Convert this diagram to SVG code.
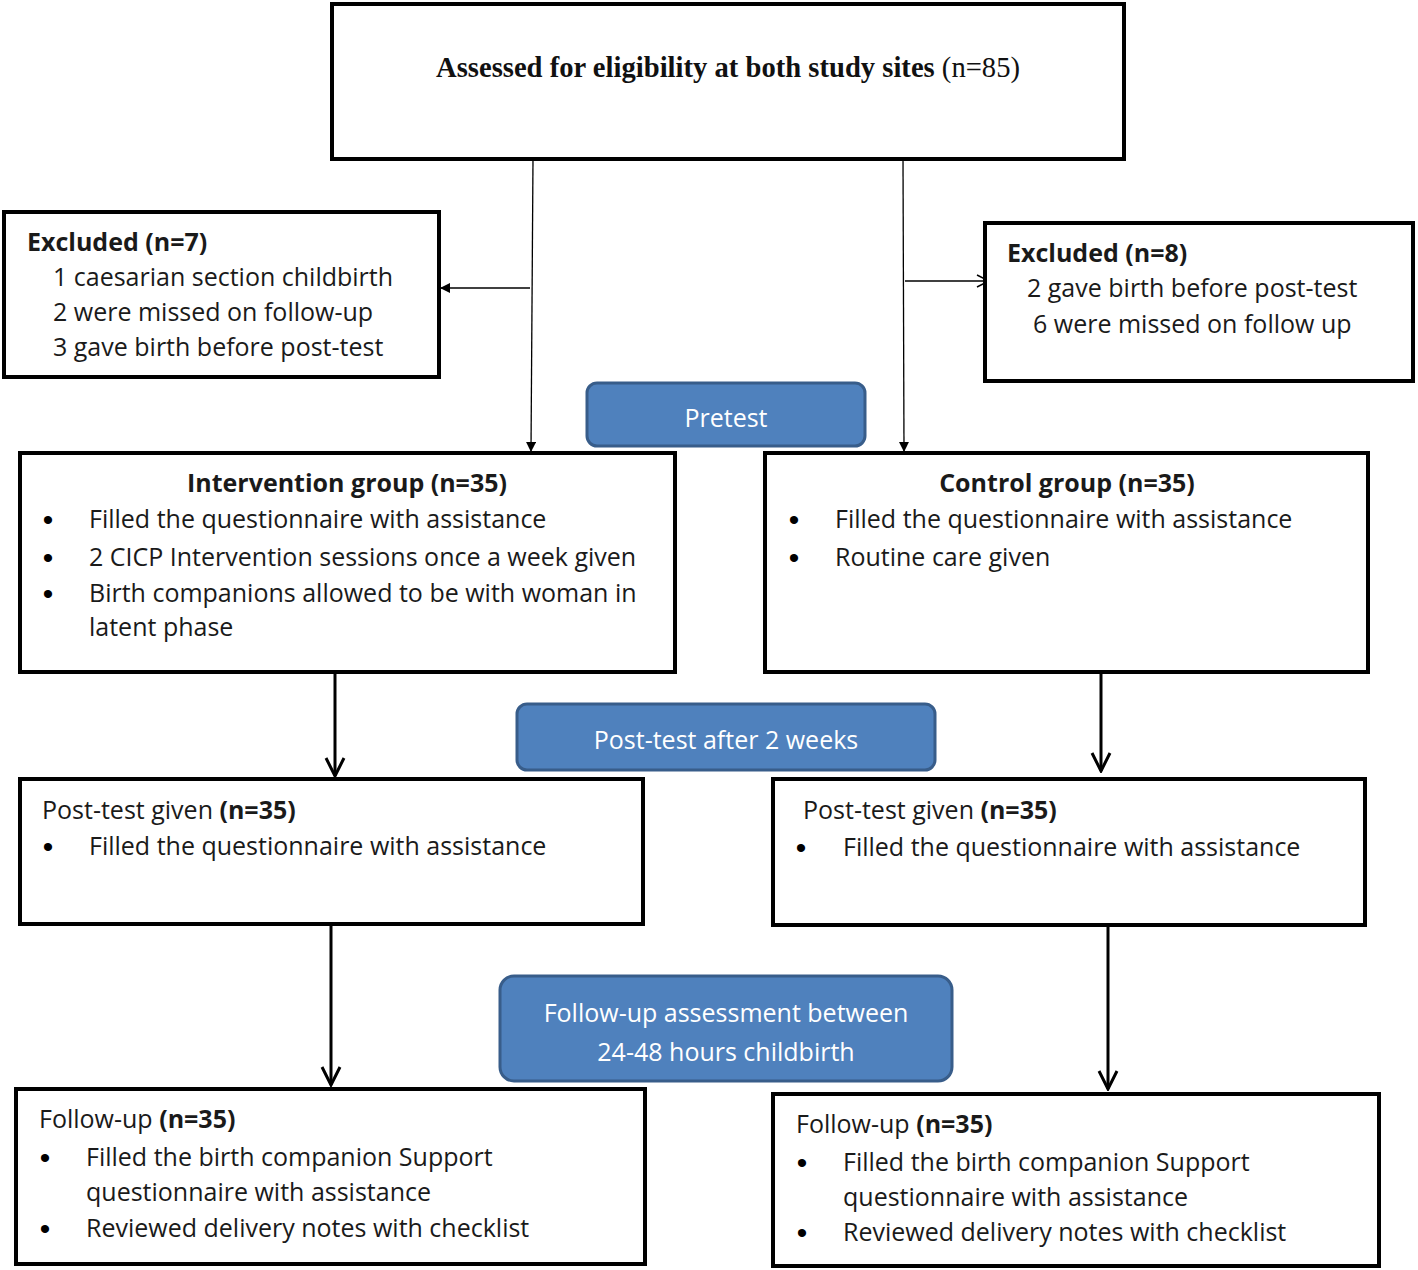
<svg xmlns="http://www.w3.org/2000/svg" width="1418" height="1270" viewBox="0 0 1418 1270">
<defs>
<style>
.box{fill:#fff;stroke:#000;stroke-width:4}
.pill{fill:#4F81BD;stroke:#385D8A;stroke-width:3}
.t{font-family:"Open Sans","Liberation Sans",sans-serif;font-size:25px;fill:#1a1a1a}
.b{font-weight:bold}
.d{font-family:"Liberation Sans",sans-serif;font-size:30px;fill:#000;text-anchor:middle}
.w{font-family:"Open Sans","Liberation Sans",sans-serif;font-size:25px;fill:#fff}
.thin{stroke:#000;stroke-width:1.3;fill:none}
.thick{stroke:#000;stroke-width:3;fill:none}
</style>
<marker id="ah" markerWidth="10" markerHeight="10" refX="9" refY="5" orient="auto" markerUnits="userSpaceOnUse"><path d="M0,0 L10,5 L0,10 Z" fill="#000"/></marker>
<marker id="ao" markerWidth="14" markerHeight="14" refX="13" refY="7" orient="auto" markerUnits="userSpaceOnUse"><path d="M1,1 L13,7 L1,13" fill="none" stroke="#000" stroke-width="1.5"/></marker>
<marker id="ak" markerWidth="22" markerHeight="22" refX="20" refY="11" orient="auto" markerUnits="userSpaceOnUse"><path d="M2,2 L20,11 L2,20" fill="none" stroke="#000" stroke-width="3"/></marker>
</defs>
<rect width="1418" height="1270" fill="#fff"/>
<g id="connectors">
<path class="thin" d="M533,159 L531,451" marker-end="url(#ah)"/>
<path class="thin" d="M530,288 L441,288" marker-end="url(#ah)"/>
<path class="thin" d="M903,159 L904,451" marker-end="url(#ah)"/>
<path class="thin" d="M905,281 L989,281" marker-end="url(#ao)"/>
<path class="thick" d="M335,672 L335,776" marker-end="url(#ak)"/>
<path class="thick" d="M1101,672 L1101,771" marker-end="url(#ak)"/>
<path class="thick" d="M331,924 L331,1085" marker-end="url(#ak)"/>
<path class="thick" d="M1108,925 L1108,1089" marker-end="url(#ak)"/>
</g>
<g id="assessed">
<rect class="box" x="332" y="4" width="792" height="155"/>
<text x="436" y="77" textLength="584" lengthAdjust="spacingAndGlyphs" style="font-family:'Liberation Serif',serif;font-size:29px;fill:#111"><tspan font-weight="bold">Assessed for eligibility at both study sites</tspan> (n=85)</text>
</g>
<g id="excluded-left">
<rect class="box" x="4" y="212" width="435" height="165"/>
<text class="t b" x="27" y="251">Excluded (n=7)</text>
<text class="t" x="53" y="286">1 caesarian section childbirth</text>
<text class="t" x="53" y="321">2 were missed on follow-up</text>
<text class="t" x="53" y="356">3 gave birth before post-test</text>
</g>
<g id="excluded-right">
<rect class="box" x="985" y="223" width="428" height="158"/>
<text class="t b" x="1007" y="262">Excluded (n=8)</text>
<text class="t" x="1027" y="297">2 gave birth before post-test</text>
<text class="t" x="1033" y="333">6 were missed on follow up</text>
</g>
<g id="pretest">
<rect class="pill" x="587" y="383" width="278" height="63" rx="10"/>
<text class="w" x="726" y="427" text-anchor="middle">Pretest</text>
</g>
<g id="intervention">
<rect class="box" x="20" y="453" width="655" height="219"/>
<text class="t b" x="347" y="492" text-anchor="middle">Intervention group (n=35)</text>
<text class="d" x="48" y="530">•</text><text class="t" x="89" y="528">Filled the questionnaire with assistance</text>
<text class="d" x="48" y="568">•</text><text class="t" x="89" y="566">2 CICP Intervention sessions once a week given</text>
<text class="d" x="48" y="604">•</text><text class="t" x="89" y="602">Birth companions allowed to be with woman in</text>
<text class="t" x="89" y="636">latent phase</text>
</g>
<g id="control">
<rect class="box" x="765" y="453" width="603" height="219"/>
<text class="t b" x="1067" y="492" text-anchor="middle">Control group (n=35)</text>
<text class="d" x="794" y="530">•</text><text class="t" x="835" y="528">Filled the questionnaire with assistance</text>
<text class="d" x="794" y="568">•</text><text class="t" x="835" y="566">Routine care given</text>
</g>
<g id="posttest-label">
<rect class="pill" x="517" y="704" width="418" height="66" rx="10"/>
<text class="w" x="726" y="749" text-anchor="middle">Post-test after 2 weeks</text>
</g>
<g id="posttest-left">
<rect class="box" x="20" y="779" width="623" height="145"/>
<text class="t" x="42" y="819">Post-test given <tspan class="b">(n=35)</tspan></text>
<text class="d" x="48" y="857">•</text><text class="t" x="89" y="855">Filled the questionnaire with assistance</text>
</g>
<g id="posttest-right">
<rect class="box" x="773" y="779" width="592" height="146"/>
<text class="t" x="803" y="819">Post-test given <tspan class="b">(n=35)</tspan></text>
<text class="d" x="801" y="858">•</text><text class="t" x="843" y="856">Filled the questionnaire with assistance</text>
</g>
<g id="followup-label">
<rect class="pill" x="500" y="976" width="452" height="105" rx="14"/>
<text class="w" x="726" y="1022" text-anchor="middle">Follow-up assessment between</text>
<text class="w" x="726" y="1061" text-anchor="middle">24-48 hours childbirth</text>
</g>
<g id="followup-left">
<rect class="box" x="16" y="1089" width="629" height="175"/>
<text class="t" x="39" y="1128">Follow-up <tspan class="b">(n=35)</tspan></text>
<text class="d" x="45" y="1168">•</text><text class="t" x="86" y="1166">Filled the birth companion Support</text>
<text class="t" x="86" y="1201">questionnaire with assistance</text>
<text class="d" x="45" y="1239">•</text><text class="t" x="86" y="1237">Reviewed delivery notes with checklist</text>
</g>
<g id="followup-right">
<rect class="box" x="773" y="1094" width="606" height="172"/>
<text class="t" x="796" y="1133">Follow-up <tspan class="b">(n=35)</tspan></text>
<text class="d" x="802" y="1173">•</text><text class="t" x="843" y="1171">Filled the birth companion Support</text>
<text class="t" x="843" y="1206">questionnaire with assistance</text>
<text class="d" x="802" y="1243">•</text><text class="t" x="843" y="1241">Reviewed delivery notes with checklist</text>
</g>
</svg>
